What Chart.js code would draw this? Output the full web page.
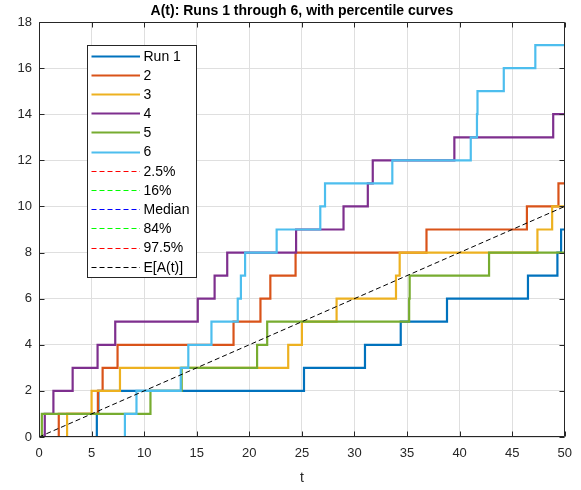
<!DOCTYPE html>
<html><head><meta charset="utf-8">
<script src="https://cdn.jsdelivr.net/npm/chart.js@4/dist/chart.umd.min.js"></script>
<style>html,body{margin:0;padding:0;background:#fff}#wrap{width:581px;height:490px;position:relative}</style>
</head><body><div id="wrap"><canvas id="c" width="581" height="490"></canvas></div>
<script>
// ---- data ----
const chartTitle = 'A(t): Runs 1 through 6, with percentile curves';
const xLabel = 't';
const runLabels = ['Run 1', '2', '3', '4', '5', '6'];
const runColors = ['#0072BD', '#D95319', '#EDB120', '#7E2F8E', '#77AC30', '#4DBEEE'];
// jump times (count value holds from that time on)
const run1Times = [0, 5.5, 5.65, 25.2, 31.0, 34.4, 38.8, 46.5, 49.3, 49.65, 50];
const run1Counts = [0, 1, 2, 3, 4, 5, 6, 7, 8, 9, 9];
const run2Times = [0, 1.88, 5.6, 6.05, 7.47, 18.5, 21.06, 22.0, 24.4, 36.85, 46.4, 49.4, 50];
const run2Counts = [0, 1, 2, 3, 4, 5, 6, 7, 8, 9, 10, 11, 11];
const run3Times = [0, 2.67, 5.0, 7.7, 23.7, 25.0, 28.3, 33.95, 34.3, 47.4, 48.8, 50];
const run3Counts = [0, 1, 2, 3, 4, 5, 6, 7, 8, 9, 10, 10];
const run4Times = [0, 0.55, 1.37, 3.2, 5.57, 7.25, 15.1, 16.7, 17.9, 24.45, 28.96, 31.27, 31.74, 39.5, 48.9, 50];
const run4Counts = [0, 1, 2, 3, 4, 5, 6, 7, 8, 9, 10, 11, 12, 13, 14, 14];
const run5Times = [0, 0.27, 10.6, 13.57, 20.74, 21.7, 35.2, 35.25, 42.8, 50];
const run5Counts = [0, 1, 2, 3, 4, 5, 6, 7, 8, 8];
const run6Times = [0, 8.17, 9.27, 13.48, 14.2, 16.4, 18.9, 19.2, 19.6, 22.6, 26.75, 27.2, 33.6, 41.06, 41.65, 41.7, 44.2, 47.2, 50];
const run6Counts = [0, 1, 2, 3, 4, 5, 6, 7, 8, 9, 10, 11, 12, 13, 14, 15, 16, 17, 17];

const percentileLabels = ['2.5%', '16%', 'Median', '84%', '97.5%'];
const percentileColors = ['#FF0000', '#00FF00', '#0000FF', '#00FF00', '#FF0000'];
const percentileTimes = [0, 50];
const p025Values = [0, 0];
const p16Values = [0, 0];
const medianValues = [0, 0];
const p84Values = [0, 0];
const p975Values = [0, 0];

const meanLabel = 'E[A(t)]';
const meanTimes = [0, 50];
const meanValues = [0, 10];

const xTicks = [0, 5, 10, 15, 20, 25, 30, 35, 40, 45, 50];
const yTicks = [0, 2, 4, 6, 8, 10, 12, 14, 16, 18];

// ---- build datasets ----
const FONT = "'Liberation Sans', Arial, Helvetica, sans-serif";
const toPts = (ts, vs) => ts.map((t, i) => ({x: t, y: vs[i]}));
const runTimes = [run1Times, run2Times, run3Times, run4Times, run5Times, run6Times];
const runCounts = [run1Counts, run2Counts, run3Counts, run4Counts, run5Counts, run6Counts];
const datasets = [];
runLabels.forEach((lab, i) => {
  datasets.push({label: lab, data: toPts(runTimes[i], runCounts[i]), borderColor: runColors[i],
    borderWidth: 2.2, stepped: 'before', pointRadius: 0, fill: false, borderDash: []});
});
const pVals = [p025Values, p16Values, medianValues, p84Values, p975Values];
percentileLabels.forEach((lab, i) => {
  datasets.push({label: lab, data: toPts(percentileTimes, pVals[i]), borderColor: percentileColors[i],
    borderWidth: 1, pointRadius: 0, fill: false, borderDash: [5, 3]});
});
datasets.push({label: meanLabel, data: toPts(meanTimes, meanValues), borderColor: '#000000',
  borderWidth: 1, pointRadius: 0, fill: false, borderDash: [5, 3]});
datasets.forEach((d, i) => { d.order = -i; });

const AX = '#262626';
const GRID = '#DFDFDF';

const boxPlugin = {
  id: 'boxTicks',
  afterDatasetsDraw(chart) {
    const ctx = chart.ctx, a = chart.chartArea, xs = chart.scales.x, ys = chart.scales.y;
    ctx.save();
    ctx.strokeStyle = AX; ctx.lineWidth = 1;
    ctx.beginPath();
    const L = Math.round(a.left) + 0.5, R = Math.round(a.right) - 0.5, T = Math.round(a.top) + 0.5, B = Math.round(a.bottom) - 0.5;
    ctx.moveTo(L, T); ctx.lineTo(R, T); ctx.lineTo(R, B); ctx.lineTo(L, B); ctx.closePath();
    xTicks.forEach(v => { const p = Math.round(xs.getPixelForValue(v)) + 0.5; ctx.moveTo(p, B); ctx.lineTo(p, B - 5); ctx.moveTo(p, T); ctx.lineTo(p, T + 5); });
    yTicks.forEach(v => { const p = Math.round(ys.getPixelForValue(v)) + 0.5; ctx.moveTo(L, p); ctx.lineTo(L + 5, p); ctx.moveTo(R, p); ctx.lineTo(R - 5, p); });
    ctx.stroke();
    // legend
    const lx = 87, ly = 45, lw = 109, lh = 232;
    ctx.fillStyle = '#FFFFFF';
    ctx.fillRect(lx, ly, lw, lh);
    ctx.strokeStyle = '#262626'; ctx.lineWidth = 1;
    ctx.strokeRect(lx + 0.5, ly + 0.5, lw, lh);
    ctx.font = '14px ' + FONT;
    ctx.textBaseline = 'middle';
    ctx.textAlign = 'left';
    chart.data.datasets.forEach((d, i) => {
      const y = 55.7 + i * 19.18;
      ctx.save();
      ctx.strokeStyle = d.borderColor; ctx.lineWidth = d.borderWidth;
      ctx.setLineDash(d.borderDash || []);
      ctx.beginPath(); ctx.moveTo(91.5, Math.round(y) + 0.5); ctx.lineTo(140, Math.round(y) + 0.5); ctx.stroke();
      ctx.restore();
      ctx.fillStyle = '#000000';
      ctx.fillText(d.label, 143.5, y + 1);
    });
    ctx.restore();
  }
};

new Chart(document.getElementById('c'), {
  type: 'line',
  data: {datasets},
  options: {
    responsive: false, animation: false, devicePixelRatio: 1,
    layout: {padding: {left: 0, right: 14, top: 0, bottom: 0}},
    plugins: {
      legend: {display: false}, tooltip: {enabled: false},
      title: {display: true, text: chartTitle, fullSize: false, color: '#000000',
        font: {family: FONT, size: 14, weight: 'bold', lineHeight: 1.2}, padding: {top: 3, bottom: 2.2}}
    },
    scales: {
      x: {type: 'linear', min: 0, max: 50,
        afterBuildTicks: s => { s.ticks = xTicks.map(v => ({value: v})); },
        ticks: {color: AX, font: {family: FONT, size: 13}, padding: 9, maxRotation: 0, autoSkip: false},
        grid: {color: GRID, drawTicks: false, lineWidth: 1},
        border: {display: false},
        title: {display: true, text: xLabel, color: AX, font: {family: FONT, size: 14}, padding: {top: 4, bottom: 3}},
        afterFit: s => { s.height = 53; }
      },
      y: {type: 'linear', min: 0, max: 18,
        afterBuildTicks: s => { s.ticks = yTicks.map(v => ({value: v})); },
        ticks: {color: AX, font: {family: FONT, size: 13}, padding: 7, autoSkip: false},
        grid: {color: GRID, drawTicks: false, lineWidth: 1},
        border: {display: false},
        afterFit: s => { s.width = 39; }
      }
    }
  },
  plugins: [boxPlugin]
});
</script></body></html>
